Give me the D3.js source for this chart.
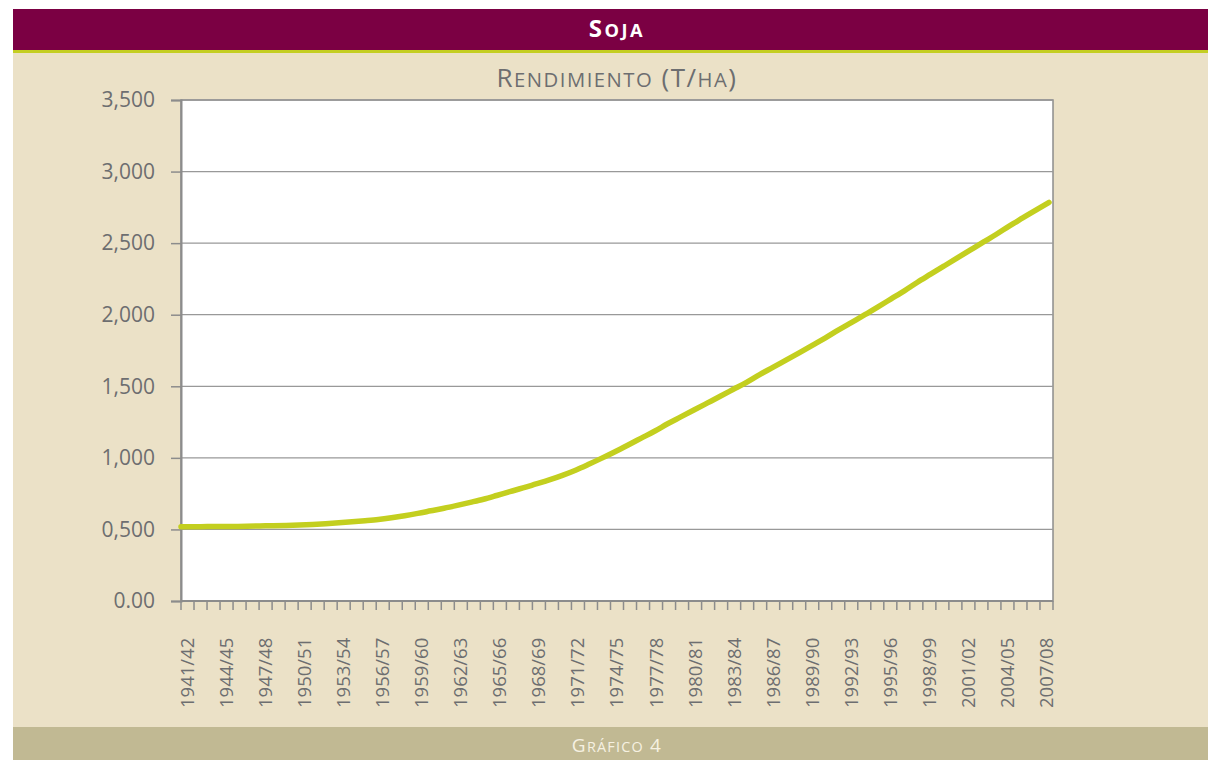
<!DOCTYPE html>
<html>
<head>
<meta charset="utf-8">
<script src="https://cdn.jsdelivr.net/npm/d3@7"></script>
<style>
	body { margin: 0; background: #ffffff; }
	#chart { width: 1208px; height: 760px; }
	text { font-family: "Open Sans", "Noto Sans", sans-serif; }
</style>
</head>
<body>
<div id="chart"></div>
<script>
const container = "#chart";

// data
// ---------------------------
const seasons = [
	"1941/42","1942/43","1943/44","1944/45","1945/46","1946/47","1947/48","1948/49","1949/50","1950/51",
	"1951/52","1952/53","1953/54","1954/55","1955/56","1956/57","1957/58","1958/59","1959/60","1960/61",
	"1961/62","1962/63","1963/64","1964/65","1965/66","1966/67","1967/68","1968/69","1969/70","1970/71",
	"1971/72","1972/73","1973/74","1974/75","1975/76","1976/77","1977/78","1978/79","1979/80","1980/81",
	"1981/82","1982/83","1983/84","1984/85","1985/86","1986/87","1987/88","1988/89","1989/90","1990/91",
	"1991/92","1992/93","1993/94","1994/95","1995/96","1996/97","1997/98","1998/99","1999/00","2000/01",
	"2001/02","2002/03","2003/04","2004/05","2005/06","2006/07","2007/08"
];

const rendimiento = [
	0.519, 0.519, 0.520, 0.520, 0.521, 0.522, 0.524, 0.526, 0.528, 0.531,
	0.535, 0.540, 0.546, 0.553, 0.561, 0.570, 0.582, 0.596, 0.612, 0.630,
	0.648, 0.668, 0.689, 0.711, 0.737, 0.764, 0.790, 0.818, 0.846, 0.878,
	0.914, 0.955, 0.998, 1.043, 1.090, 1.138, 1.186, 1.238, 1.286, 1.334,
	1.382, 1.430, 1.479, 1.528, 1.582, 1.632, 1.683, 1.734, 1.786, 1.838,
	1.894, 1.947, 2.000, 2.055, 2.111, 2.167, 2.227, 2.283, 2.339, 2.395,
	2.451, 2.507, 2.562, 2.621, 2.676, 2.731, 2.785
];

const y_ticks = [0, 0.5, 1, 1.5, 2, 2.5, 3, 3.5];
const y_tick_labels = ["0.00", "0,500", "1,000", "1,500", "2,000", "2,500", "3,000", "3,500"];

const title = "Soja";
const subtitle = "Rendimiento (T/ha)";
const footer = "Gráfico 4";

// colors
// ---------------------------
let c_header = '#7b0043',
	c_stripe = '#c4ce22',
	c_panel = '#ebe1c7',
	c_footer = '#c1b993',
	c_text = '#6d6e70',
	c_axis = '#8c8c8c',
	c_grid = '#999999',
	c_line = '#c3cf1f';

const window_w = 1208,
	window_h = 760;

let margin = {
		top: 100,
		left: 181,
		bottom: 159,
		right: 155
	},
	width = window_w - (margin.left + margin.right),
	height = window_h - (margin.top + margin.bottom);

// small caps made of tspans: lowercase letters become smaller capitals
function small_caps(sel, str, size, ratio) {
	let runs = [];
	str.split("").forEach(ch => {
		let small = ch !== ch.toUpperCase();
		if (runs.length && runs[runs.length - 1].small == small) {
			runs[runs.length - 1].txt += ch;
		} else {
			runs.push({ small: small, txt: ch });
		}
	});
	runs.forEach(r => {
		sel.append("tspan")
			.style("font-size", (r.small ? size * ratio : size) + "px")
			.text(r.small ? r.txt.toUpperCase() : r.txt);
	});
}

function draw() {

	let svg = d3.select(container)
		.append("svg")
		.attr("width", window_w)
		.attr("height", window_h);

	// frame
	// ---------------------------
	svg.append("rect")
		.attr("x", 13).attr("y", 9)
		.attr("width", window_w - 13).attr("height", 41)
		.attr("fill", c_header);

	svg.append("rect")
		.attr("x", 13).attr("y", 50)
		.attr("width", window_w - 13).attr("height", 3)
		.attr("fill", c_stripe);

	svg.append("rect")
		.attr("x", 13).attr("y", 53)
		.attr("width", window_w - 13).attr("height", 674)
		.attr("fill", c_panel);

	svg.append("rect")
		.attr("x", 13).attr("y", 727)
		.attr("width", window_w - 13).attr("height", 33)
		.attr("fill", c_footer);

	let cx = margin.left + width / 2;

	let t_title = svg.append("text")
		.attr("x", cx).attr("y", 37)
		.attr("text-anchor", "middle")
		.attr("fill", "#ffffff")
		.style("font-weight", 700)
		.style("letter-spacing", "2.5px");
	small_caps(t_title, title, 24, 0.76);

	let t_sub = svg.append("text")
		.attr("x", cx).attr("y", 87)
		.attr("text-anchor", "middle")
		.attr("fill", c_text)
		.style("letter-spacing", "1.5px");
	small_caps(t_sub, subtitle, 26, 0.78);

	let t_foot = svg.append("text")
		.attr("x", cx).attr("y", 752)
		.attr("text-anchor", "middle")
		.attr("fill", "#f6f1e2")
		.style("letter-spacing", "1.2px");
	small_caps(t_foot, footer, 19, 0.76);

	// scales
	// ---------------------------
	let x_band = d3.scaleBand()
		.domain(seasons)
		.range([0, width]);

	let x = d3.scalePoint()
		.domain(seasons)
		.range([0, width - 4]);

	let y = d3.scaleLinear()
		.domain([0, 3.5])
		.range([height, 0]);

	let plot = svg.append("g")
		.attr("transform", "translate(" + margin.left + "," + margin.top + ")");

	plot.append("rect")
		.attr("width", width)
		.attr("height", height)
		.attr("fill", "#ffffff")
		.attr("stroke", c_axis)
		.attr("stroke-width", 1.5);

	// grid
	// ---------------------------
	plot.append("g")
		.selectAll("line")
		.data(y_ticks.slice(1))
		.enter()
		.append("line")
		.attr("x1", 0).attr("x2", width)
		.attr("y1", d => y(d)).attr("y2", d => y(d))
		.attr("stroke", c_grid)
		.attr("stroke-width", 1.3);

	// y axis
	// ---------------------------
	let axis_y = plot.append("g")
		.call(d3.axisLeft(y)
			.tickValues(y_ticks)
			.tickFormat((d, i) => y_tick_labels[i])
			.tickSize(10)
			.tickPadding(16)
		);

	axis_y.select(".domain").attr("stroke", c_axis).attr("stroke-width", 2);
	axis_y.selectAll(".tick line").attr("stroke", c_axis).attr("stroke-width", 1.5);
	axis_y.selectAll(".tick text")
		.attr("fill", c_text)
		.style("font-size", "21px");

	// x axis
	// ---------------------------
	let boundaries = seasons.map(s => x_band(s)).concat([width]);

	let axis_x = plot.append("g")
		.attr("transform", "translate(0," + height + ")");

	axis_x.append("line")
		.attr("x1", 0).attr("x2", width)
		.attr("stroke", c_axis)
		.attr("stroke-width", 2);

	axis_x.selectAll(".xtick")
		.data(boundaries)
		.enter()
		.append("line")
		.attr("class", "xtick")
		.attr("x1", d => d).attr("x2", d => d)
		.attr("y1", 0).attr("y2", 9)
		.attr("stroke", c_axis)
		.attr("stroke-width", 1.5);

	axis_x.selectAll(".xlabel")
		.data(seasons.filter((d, i) => i % 3 == 0))
		.enter()
		.append("text")
		.attr("class", "xlabel")
		.attr("transform", d => "translate(" + (x_band(d) + x_band.bandwidth() / 2) + "," + 107 + ") rotate(-90)")
		.attr("dy", "0.35em")
		.attr("text-anchor", "start")
		.attr("fill", c_text)
		.style("font-size", "18.5px")
		.text(d => d);

	// line
	// ---------------------------
	let line = d3.line()
		.x((d, i) => x(seasons[i]))
		.y(d => y(d))
		.curve(d3.curveMonotoneX);

	plot.append("path")
		.datum(rendimiento)
		.attr("d", line)
		.attr("fill", "none")
		.attr("stroke", c_line)
		.attr("stroke-width", 5.5)
		.attr("stroke-linecap", "round")
		.attr("stroke-linejoin", "round");
}

window.onload = function() {
	draw();
}
</script>
</body>
</html>
